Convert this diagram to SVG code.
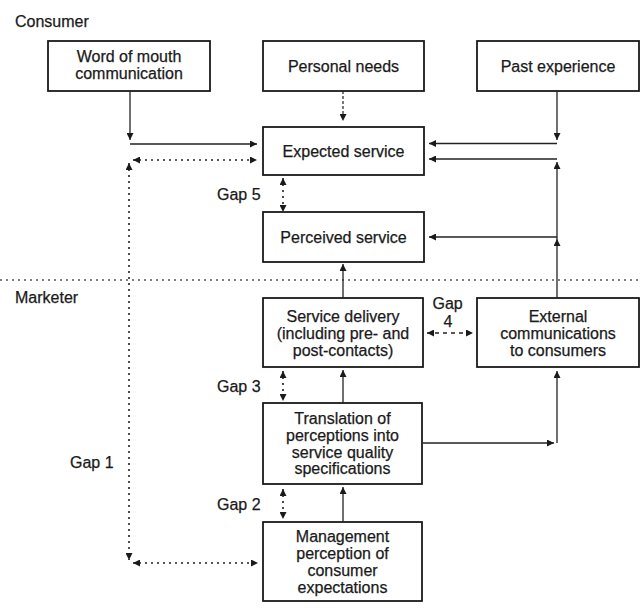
<svg xmlns="http://www.w3.org/2000/svg" width="642" height="608" viewBox="0 0 642 608">
<style>
.box{fill:#fff;stroke:#1a1a1a;stroke-width:1.8}
.t{font-family:"Liberation Sans",Arial,sans-serif;font-size:16px;fill:#1a1a1a;stroke:#1a1a1a;stroke-width:0.25}
.c{text-anchor:middle}
.ln{fill:none;stroke:#222;stroke-width:1.3}
.dot{fill:none;stroke:#222;stroke-width:1.6;stroke-dasharray:2 4}
.dash{fill:none;stroke:#222;stroke-width:1.3;stroke-dasharray:4 4}
.pn{fill:none;stroke:#222;stroke-width:1.2;stroke-dasharray:3 2}
.div{fill:none;stroke:#555;stroke-width:1.4;stroke-dasharray:2 4}
</style>
<defs>
<marker id="ah" markerUnits="userSpaceOnUse" markerWidth="8" markerHeight="7" refX="7" refY="3.5" orient="auto-start-reverse" viewBox="0 0 8 7">
<path d="M0,0 L7,3.5 L0,7 Z" fill="#1a1a1a"/>
</marker>
</defs>
<rect width="642" height="608" fill="#fff"/>
<text class="t" x="15" y="27">Consumer</text>
<text class="t" x="15" y="303">Marketer</text>
<path class="div" d="M0,280 H642"/>

<g id="wom"><rect class="box" x="48" y="41" width="162" height="50"/>
<text class="t c" x="129" y="62">Word of mouth</text><text class="t c" x="129" y="79">communication</text></g>
<g id="pn"><rect class="box" x="263" y="41" width="161" height="50"/>
<text class="t c" x="343.5" y="71.5">Personal needs</text></g>
<g id="pe"><rect class="box" x="477" y="41" width="162" height="50"/>
<text class="t c" x="558" y="71.5">Past experience</text></g>
<g id="es"><rect class="box" x="263" y="127" width="161" height="48"/>
<text class="t c" x="343.5" y="156.5">Expected service</text></g>
<g id="ps"><rect class="box" x="263" y="212" width="161" height="50"/>
<text class="t c" x="343.5" y="242.5">Perceived service</text></g>
<g id="sd"><rect class="box" x="263" y="298" width="160" height="69"/>
<text class="t c" x="343" y="321.5">Service delivery</text><text class="t c" x="343" y="338.5">(including pre- and</text><text class="t c" x="343" y="355.5">post-contacts)</text></g>
<g id="ec"><rect class="box" x="477" y="298" width="162" height="69"/>
<text class="t c" x="558" y="321.5">External</text><text class="t c" x="558" y="338.5">communications</text><text class="t c" x="558" y="355.5">to consumers</text></g>
<g id="tr"><rect class="box" x="263" y="403" width="159" height="81"/>
<text class="t c" x="342.5" y="424">Translation of</text><text class="t c" x="342.5" y="441">perceptions into</text><text class="t c" x="342.5" y="458">service quality</text><text class="t c" x="342.5" y="474">specifications</text></g>
<g id="mp"><rect class="box" x="263" y="522" width="159" height="79"/>
<text class="t c" x="342.5" y="542">Management</text><text class="t c" x="342.5" y="558.5">perception of</text><text class="t c" x="342.5" y="576">consumer</text><text class="t c" x="342.5" y="592.5">expectations</text></g>

<g id="labels">
<text class="t" x="217" y="200">Gap 5</text>
<text class="t" x="432.5" y="309">Gap</text>
<text class="t c" x="448" y="327">4</text>
<text class="t" x="217" y="392">Gap 3</text>
<text class="t" x="70" y="468">Gap 1</text>
<text class="t" x="217" y="510">Gap 2</text>
</g>

<g id="connectors">
<path class="ln" d="M130,91 V140" marker-end="url(#ah)"/>
<path class="ln" d="M130,144 H257" marker-end="url(#ah)"/>
<path class="pn" d="M343,91 V121" marker-end="url(#ah)"/>
<path class="ln" d="M557,91 V140" marker-end="url(#ah)"/>
<path class="ln" d="M557,143.5 H429" marker-end="url(#ah)"/>
<path class="ln" d="M557,159 H429" marker-end="url(#ah)"/>
<path class="ln" d="M557,239 V162" marker-end="url(#ah)"/>
<path class="ln" d="M557,298 V239" marker-end="url(#ah)"/>
<path class="ln" d="M557,237 H429" marker-end="url(#ah)"/>
<path class="ln" d="M343,298 V264" marker-end="url(#ah)"/>
<path class="ln" d="M343,403 V370" marker-end="url(#ah)"/>
<path class="ln" d="M343,522 V487" marker-end="url(#ah)"/>
<path class="ln" d="M423,443 H554" marker-end="url(#ah)"/>
<path class="ln" d="M557,443 V371" marker-end="url(#ah)"/>
<path class="dot" d="M283,178 V212" marker-start="url(#ah)" marker-end="url(#ah)"/>
<path class="dot" d="M283,371 V401" marker-start="url(#ah)" marker-end="url(#ah)"/>
<path class="dot" d="M283,489 V519" marker-start="url(#ah)" marker-end="url(#ah)"/>
<path class="dash" d="M427,333 H473" marker-start="url(#ah)" marker-end="url(#ah)"/>
<path class="dot" d="M129,163 V560" marker-start="url(#ah)" marker-end="url(#ah)"/>
<path class="dot" d="M133,160 H257" marker-start="url(#ah)" marker-end="url(#ah)"/>
<path class="dot" d="M133,563 H258" marker-start="url(#ah)" marker-end="url(#ah)"/>
</g>
</svg>
